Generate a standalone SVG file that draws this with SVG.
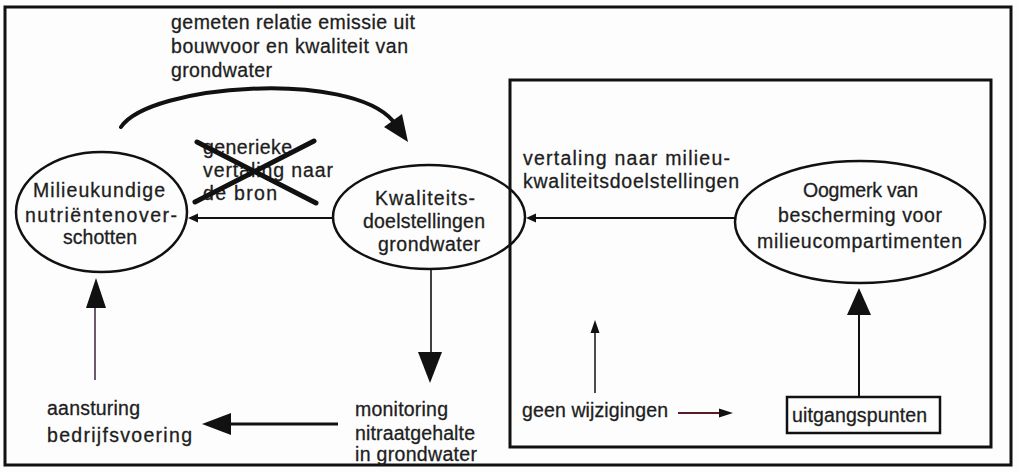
<svg xmlns="http://www.w3.org/2000/svg" width="1019" height="472" viewBox="0 0 1019 472">
<style>
  text { font-family: "Liberation Sans", Arial, sans-serif; font-size: 19.5px; fill: #1e1e1e; stroke: #1e1e1e; stroke-width: 0.3; }
  .node { fill: none; stroke: #111; stroke-width: 2.5; }
  .frame { fill: none; stroke: #111; stroke-width: 3; }
  .line { stroke: #111; fill: none; }
  .head { fill: #111; stroke: none; }
</style>
<rect x="0" y="0" width="1019" height="472" fill="#fdfdfd"/>
<rect id="outer-frame" class="frame" x="5" y="7" width="1006" height="458"/>
<rect id="inner-frame" class="frame" x="510" y="80" width="481" height="367" stroke-width="2.5"/>

<g id="n-milieukundige">
  <ellipse class="node" cx="101.5" cy="212" rx="85.5" ry="60"/>
  <text x="33" y="197" textLength="132" lengthAdjust="spacing">Milieukundige</text>
  <text x="25" y="222" textLength="152" lengthAdjust="spacing">nutriëntenover-</text>
  <text x="63" y="244" textLength="74" lengthAdjust="spacing">schotten</text>
</g>

<g id="n-kwaliteits">
  <ellipse class="node" cx="429" cy="217" rx="96" ry="52"/>
  <text x="375" y="205" textLength="100" lengthAdjust="spacing">Kwaliteits-</text>
  <text x="363" y="228" textLength="122" lengthAdjust="spacing">doelstellingen</text>
  <text x="378" y="251" textLength="102" lengthAdjust="spacing">grondwater</text>
</g>

<g id="n-oogmerk">
  <ellipse class="node" cx="860" cy="222" rx="125" ry="61"/>
  <text x="803" y="197" textLength="115" lengthAdjust="spacing">Oogmerk van</text>
  <text x="778" y="222" textLength="164" lengthAdjust="spacing">bescherming voor</text>
  <text x="757" y="248" textLength="205" lengthAdjust="spacing">milieucompartimenten</text>
</g>

<g id="n-uitgangspunten">
  <rect class="node" x="787" y="397" width="153" height="36"/>
  <text x="792" y="422" textLength="135" lengthAdjust="spacing">uitgangspunten</text>
</g>

<g id="n-aansturing">
  <text x="47" y="415" textLength="93" lengthAdjust="spacing">aansturing</text>
  <text x="47" y="442" textLength="145" lengthAdjust="spacing">bedrijfsvoering</text>
</g>

<g id="n-monitoring">
  <text x="355" y="416" textLength="93" lengthAdjust="spacing">monitoring</text>
  <text x="355" y="440" textLength="120" lengthAdjust="spacing">nitraatgehalte</text>
  <text x="355" y="461" textLength="122" lengthAdjust="spacing">in grondwater</text>
</g>

<g id="n-geen">
  <text x="522" y="417" textLength="146" lengthAdjust="spacing">geen wijzigingen</text>
</g>

<g id="connectors">
  <!-- curved arrow -->
  <path class="line" stroke-width="4" stroke-linecap="round" d="M121,127 C150,84 350,70 393,121"/>
  <polygon class="head" points="408,142 384,127 402,114"/>
  <text x="171" y="29" textLength="244" lengthAdjust="spacing">gemeten relatie emissie uit</text>
  <text x="171" y="53" textLength="237" lengthAdjust="spacing">bouwvoor en kwaliteit van</text>
  <text x="171" y="77" textLength="101" lengthAdjust="spacing">grondwater</text>

  <!-- Kwaliteits -> Milieukundige (crossed out label) -->
  <line class="line" stroke-width="2" x1="333" y1="218" x2="195" y2="218"/>
  <polygon class="head" points="188,218 198,213.5 198,222.5"/>
  <text x="203" y="154" textLength="89" lengthAdjust="spacing">generieke</text>
  <text x="203" y="177" textLength="130" lengthAdjust="spacing">vertaling naar</text>
  <text x="203" y="200" textLength="74" lengthAdjust="spacing">de bron</text>
  <line class="line" stroke-width="5" stroke-linecap="round" x1="197" y1="142" x2="316" y2="203"/>
  <line class="line" stroke-width="5" stroke-linecap="round" x1="314" y1="141" x2="195" y2="202"/>

  <!-- Oogmerk -> Kwaliteits -->
  <line class="line" stroke-width="2" x1="735" y1="218" x2="533" y2="218"/>
  <polygon class="head" points="526,218 536,213.5 536,222.5"/>
  <text x="523" y="165" textLength="207" lengthAdjust="spacing">vertaling naar milieu-</text>
  <text x="523" y="188" textLength="216" lengthAdjust="spacing">kwaliteitsdoelstellingen</text>

  <!-- Kwaliteits -> monitoring -->
  <line class="line" stroke-width="1.6" x1="431" y1="269" x2="431" y2="355"/>
  <polygon class="head" points="430,383 418,352 442,352"/>

  <!-- monitoring -> aansturing -->
  <line class="line" stroke-width="3" x1="338" y1="424" x2="226" y2="424"/>
  <polygon class="head" points="202,424 231,413 231,435"/>

  <!-- aansturing -> Milieukundige -->
  <line stroke="#4a3048" stroke-width="1.6" x1="95" y1="380" x2="95" y2="305"/>
  <polygon class="head" points="96,278 86,308 106,308"/>

  <!-- small up arrow -->
  <line class="line" stroke-width="1.5" x1="595" y1="393" x2="595" y2="330"/>
  <polygon class="head" points="595,320 590.5,333 599.5,333"/>

  <!-- geen wijzigingen -> -->
  <line stroke="#5a1a28" stroke-width="2" x1="678" y1="413" x2="722" y2="413"/>
  <polygon class="head" points="733,413 719,408.5 719,417.5"/>

  <!-- uitgangspunten -> Oogmerk -->
  <line class="line" stroke-width="2" x1="859" y1="397" x2="859" y2="312"/>
  <polygon class="head" points="859,288 847,315 871,315"/>
</g>
</svg>
